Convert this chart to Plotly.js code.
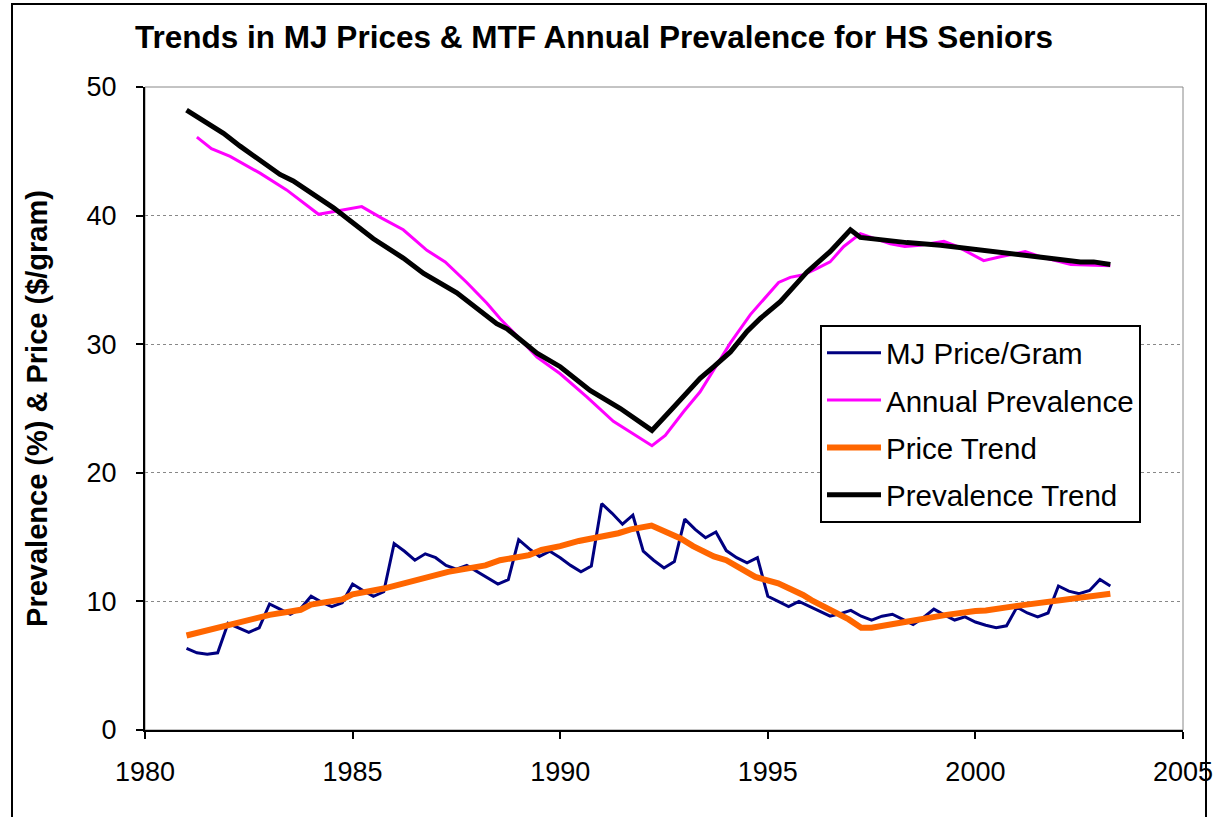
<!DOCTYPE html>
<html>
<head>
<meta charset="utf-8">
<script src="https://cdn.plot.ly/plotly-3.0.1.min.js"></script>
<style>
  html, body { margin: 0; padding: 0; background: #fff; }
  #chart { width: 1213px; height: 817px; }
</style>
</head>
<body>
<div id="chart"></div>
<script>
// MJ price per gram, four quarters per year starting 1981 Q1
var priceYears = [1981, 1982, 1983, 1984, 1985, 1986, 1987, 1988, 1989, 1990, 1991, 1992,
                  1993, 1994, 1995, 1996, 1997, 1998, 1999, 2000, 2001, 2002, 2003];
var priceQuarterly = [
  [6.35, 6.0, 5.9, 6.0], [8.3, 7.95, 7.6, 7.95], [9.8, 9.4, 9.0, 9.45], [10.4, 9.95, 9.6, 9.9],
  [11.35, 10.85, 10.4, 10.75], [14.5, 13.9, 13.2, 13.7], [13.4, 12.8, 12.5, 12.8],
  [12.3, 11.8, 11.35, 11.7], [14.8, 14.1, 13.5, 13.9], [13.4, 12.8, 12.3, 12.75],
  [17.6, 16.85, 16.0, 16.7], [13.9, 13.2, 12.6, 13.1], [16.4, 15.6, 14.95, 15.4],
  [13.95, 13.4, 13.0, 13.4], [10.4, 10.0, 9.6, 10.0], [9.6, 9.2, 8.85, 9.05],
  [9.3, 8.85, 8.55, 8.85], [9.0, 8.6, 8.2, 8.75], [9.4, 8.95, 8.55, 8.8],
  [8.4, 8.15, 7.95, 8.1], [9.55, 9.1, 8.8, 9.1], [11.2, 10.8, 10.6, 10.85], [11.7, 11.2]
];

// Annual prevalence (%)
var prevX = [1981.25, 1981.6, 1982.05, 1982.77, 1983.41, 1984.18, 1985.22, 1985.7, 1986.22, 1986.79,
             1987.23, 1987.75, 1988.23, 1988.55, 1989.12, 1989.44, 1990.0, 1990.64, 1991.28, 1992.21,
             1992.53, 1992.97, 1993.37, 1993.78, 1994.1, 1994.58, 1995.26, 1995.54, 1995.86, 1996.19,
             1996.5, 1996.83, 1997.23, 1997.95, 1998.3, 1998.67, 1999.24, 1999.56, 2000.2, 2000.6,
             2001.2, 2001.57, 2002.3, 2003.25];
var prevY = [46.1, 45.2, 44.6, 43.3, 42.0, 40.1, 40.7, 39.8, 38.9, 37.3,
             36.4, 34.8, 33.2, 32.0, 30.1, 29.0, 27.7, 25.9, 24.0, 22.1,
             22.9, 24.75, 26.3, 28.4, 30.1, 32.3, 34.8, 35.2, 35.4, 35.9,
             36.4, 37.6, 38.6, 37.8, 37.6, 37.7, 38.0, 37.6, 36.5, 36.8,
             37.2, 36.8, 36.2, 36.1];

// Price trend
var priceTrendX = [1981.0, 1981.73, 1982.0, 1982.75, 1983.0, 1983.75, 1984.0, 1984.75, 1985.0, 1985.75,
                   1986.0, 1986.3, 1987.0, 1987.3, 1988.2, 1988.55, 1989.25, 1989.55, 1990.0, 1990.45,
                   1991.4, 1991.7, 1992.2, 1992.9, 1993.2, 1993.7, 1994.0, 1994.7, 1995.25, 1995.6,
                   1995.85, 1996.05, 1996.55, 1996.95, 1997.25, 1997.5, 1998.3, 1998.55, 1999.3, 2000.0,
                   2000.25, 2001.0, 2001.25, 2001.95, 2002.75, 2003.25];
var priceTrendY = [7.35, 7.9, 8.2, 8.65, 8.95, 9.35, 9.75, 10.15, 10.55, 11.0,
                   11.2, 11.5, 12.0, 12.3, 12.8, 13.2, 13.6, 14.0, 14.3, 14.7,
                   15.3, 15.6, 15.9, 14.9, 14.3, 13.5, 13.2, 11.9, 11.4, 10.9,
                   10.5, 10.1, 9.3, 8.6, 7.95, 7.95, 8.4, 8.55, 8.95, 9.25,
                   9.3, 9.65, 9.75, 10.1, 10.45, 10.6];

// Prevalence trend
var prevTrendX = [1981.0, 1981.4, 1981.89, 1982.29, 1982.77, 1983.25, 1983.57, 1984.06, 1984.54, 1985.02,
                  1985.5, 1986.22, 1986.71, 1987.51, 1988.0, 1988.47, 1988.72, 1989.44, 1990.0, 1990.72,
                  1991.45, 1992.21, 1992.73, 1993.37, 1993.7, 1994.1, 1994.5, 1994.82, 1995.3, 1995.62,
                  1995.94, 1996.5, 1996.99, 1997.23, 1997.95, 1998.35, 1999.16, 1999.72, 2000.2, 2000.52,
                  2001.08, 2001.89, 2002.53, 2002.85, 2003.25];
var prevTrendY = [48.2, 47.4, 46.4, 45.4, 44.3, 43.2, 42.7, 41.6, 40.6, 39.4,
                  38.2, 36.7, 35.5, 34.0, 32.8, 31.6, 31.2, 29.3, 28.25, 26.4,
                  25.0, 23.3, 25.1, 27.35, 28.25, 29.4, 31.0, 32.0, 33.3, 34.5,
                  35.6, 37.2, 38.9, 38.3, 38.0, 37.9, 37.7, 37.5, 37.25, 37.2,
                  37.0, 36.7, 36.4, 36.4, 36.2];

var xTicks = [1980, 1985, 1990, 1995, 2000, 2005];
var yTicks = [0, 10, 20, 30, 40, 50];

var priceX = [], priceY = [];
priceYears.forEach(function (yr, i) {
  priceQuarterly[i].forEach(function (v, q) {
    priceX.push(yr + q / 4);
    priceY.push(v);
  });
});

var FONT = 'Liberation Sans, Arial, sans-serif';
var W = 1213, H = 817;
var M = { l: 145, r: 30, t: 87, b: 87 };
var plotW = W - M.l - M.r, plotH = H - M.t - M.b;
function px(x) { return (x - M.l) / plotW; }
function py(y) { return (H - M.b - y) / plotH; }

var traces = [
  { x: priceX, y: priceY, name: 'MJ Price/Gram', type: 'scatter', mode: 'lines',
    line: { color: '#000080', width: 3 }, legendgroup: 'a' },
  { x: prevX, y: prevY, name: 'Annual Prevalence', type: 'scatter', mode: 'lines',
    line: { color: '#FF00FF', width: 3 }, legendgroup: 'b' },
  { x: priceTrendX, y: priceTrendY, name: 'Price Trend', type: 'scatter', mode: 'lines',
    line: { color: '#FF6600', width: 6 }, legendgroup: 'c' },
  { x: prevTrendX, y: prevTrendY, name: 'Prevalence Trend', type: 'scatter', mode: 'lines',
    line: { color: '#000000', width: 5 }, legendgroup: 'd' }
];

var layout = {
  width: W, height: H,
  margin: M,
  paper_bgcolor: '#fff', plot_bgcolor: '#fff',
  font: { family: FONT, color: '#000', size: 27 },
  title: {
    text: '<b>Trends in MJ Prices & MTF Annual Prevalence for HS Seniors</b>',
    font: { family: FONT, size: 31.5, color: '#000' },
    xref: 'container', x: 594 / W, xanchor: 'center',
    yref: 'container', y: 1 - 37 / H, yanchor: 'middle'
  },
  xaxis: {
    range: [1980, 2005], tickvals: xTicks, ticktext: xTicks.map(String),
    showgrid: false, zeroline: false,
    showline: true, linecolor: '#000', linewidth: 2,
    ticks: 'outside', ticklen: 7, tickcolor: '#000', tickwidth: 2,
    tickfont: { family: FONT, size: 27 }, ticklabelstandoff: 10,
    ticklabeloverflow: 'allow'
  },
  yaxis: {
    range: [0, 50], tickvals: yTicks,
    showgrid: true, gridcolor: '#888', gridwidth: 1, griddash: 'dot',
    zeroline: false,
    showline: true, linecolor: '#000', linewidth: 2,
    ticks: 'outside', ticklen: 7, tickcolor: '#000', tickwidth: 2,
    tickfont: { family: FONT, size: 27 }, ticklabelstandoff: 14,
    title: { text: '<b>Prevalence (%) & Price ($/gram)</b>', font: { family: FONT, size: 29 }, standoff: 30 }
  },
  showlegend: true,
  legend: {
    x: px(820), y: py(325), xanchor: 'left', yanchor: 'top',
    bgcolor: '#fff', bordercolor: '#000', borderwidth: 2,
    font: { family: FONT, size: 29.5 },
    traceorder: 'grouped', tracegroupgap: 6, itemwidth: 54
  },
  shapes: [
    { type: 'rect', xref: 'paper', yref: 'paper', x0: 0, x1: 1, y0: 0, y1: 1,
      line: { color: '#888', width: 1 }, layer: 'below' },
    { type: 'rect', xref: 'paper', yref: 'paper', x0: px(12), x1: px(1206), y0: py(830), y1: py(4),
      line: { color: '#000', width: 2 } }
  ]
};

Plotly.newPlot('chart', traces, layout, { displayModeBar: false, staticPlot: true });
</script>
</body>
</html>
